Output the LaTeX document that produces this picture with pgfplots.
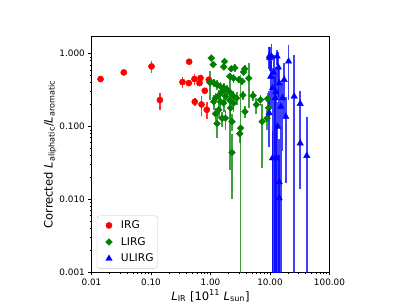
\documentclass[border=0pt]{standalone}
\usepackage{pgfplots}
\pgfplotsset{compat=1.18}
\usepackage{pgfplotstable}
\usepackage{fontspec}
\setmainfont{DejaVu Sans}
\definecolor{mplgreen}{HTML}{008000}
\definecolor{mplred}{HTML}{FF0000}
\definecolor{mplblue}{HTML}{0000FF}

\pgfplotstableread{
x y ep em
0.0142 0.449 0.04 0.04
0.0349 0.553 0.03 0.03
0.102 0.669 0.13 0.13
0.141 0.231 0.06 0.06
0.338 0.408 0.07 0.07
0.438 0.776 0.06 0.06
0.432 0.395 0.03 0.03
0.538 0.449 0.08 0.08
0.679 0.463 0.04 0.04
0.653 0.395 0.04 0.04
0.545 0.219 0.03 0.03
0.706 0.201 0.06 0.06
0.802 0.310 0.02 0.02
0.866 0.170 0.045 0.045
0.936 0.439 0.04 0.04
}\irg

\pgfplotstableread{
x y ep em
1.03 0.87 0.06 0.06
1.11 0.71 0.05 0.05
1.72 0.78 0.08 0.08
1.67 0.66 0.06 0.06
2.23 0.62 0.05 0.05
2.56 0.64 0.08 0.08
3.60 0.56 0.06 0.06
3.75 0.62 0.07 0.07
2.10 0.23 0.205 0.205
2.10 0.49 0.05 0.05
2.44 0.46 0.06 0.06
3.00 0.44 0.05 0.05
3.40 0.42 0.05 0.05
4.40 0.46 0.28 0.28
1.13 0.40 0.05 0.05
1.29 0.375 0.06 0.06
1.47 0.355 0.05 0.05
1.67 0.34 0.06 0.06
1.90 0.32 0.05 0.05
2.17 0.29 0.05 0.05
1.57 0.30 0.04 0.04
1.38 0.27 0.05 0.05
1.21 0.246 0.04 0.04
1.79 0.26 0.05 0.05
2.44 0.26 0.05 0.05
2.75 0.246 0.05 0.05
3.50 0.27 0.04 0.04
5.20 0.265 0.04 0.04
5.90 0.20 0.05 0.05
6.90 0.233 0.04 0.04
9.10 0.24 0.05 0.05
1.13 0.22 0.05 0.05
1.47 0.22 0.04 0.04
1.67 0.21 0.05 0.05
2.17 0.18 0.06 0.06
1.38 0.17 0.04 0.04
1.21 0.15 0.03 0.03
2.44 0.21 0.05 0.05
1.57 0.13 0.03 0.03
1.79 0.13 0.04 0.04
2.30 0.117 0.03 0.03
1.29 0.11 0.04 0.04
3.80 0.16 0.03 0.03
3.20 0.095 0.42 0.0945
3.10 0.08 0.02 0.02
7.40 0.117 0.09 0.09
8.90 0.13 0.04 0.04
9.50 0.18 0.05 0.05
2.30 0.044 0.034 0.034
0.98 0.40 0.17 0.17
}\lirg

\pgfplotstableread{
x y ep em
9.93 0.873 0.35 0.30
9.70 0.918 0.30 0.30
10.6 0.918 0.45 0.45
13.2 0.918 0.22 0.22
20.5 0.784 0.55 0.55
25.5 0.259 0.70 0.2585
32.2 0.205 0.10 0.10
32.2 0.059 0.045 0.045
41.5 0.0397 0.095 0.0392
11.0 0.337 0.30 0.3365
12.2 0.246 0.25 0.2455
14.3 0.395 0.30 0.30
17.3 0.439 0.30 0.30
15.2 0.188 0.20 0.1875
18.4 0.137 0.12 0.12
13.4 0.100 0.12 0.0995
11.0 0.0368 0.05 0.0363
12.9 0.0368 0.06 0.0363
9.70 0.153 0.15 0.10
10.3 0.487 0.30 0.30
16.2 0.246 0.20 0.20
14.3 0.0173 0.05 0.0168
14.3 0.0104 0.03 0.0099
11.5 0.55 0.40 0.5495
12.5 0.30 0.35 0.2995
13.8 0.65 0.40 0.40
}\ulirg

\begin{document}
\begin{tikzpicture}
\useasboundingbox (0bp,0bp) rectangle (409bp,307bp);
\begin{axis}[
  at={(91.5bp,34.7bp)}, anchor=south west,
  scale only axis, width=238bp, height=235.6bp,
  xmode=log, ymode=log,
  xmin=0.01, xmax=100, ymin=0.001, ymax=1.71,
  xtick={0.01,0.1,1,10,100},
  xticklabels={0.01,0.10,1.00,10.00,100.00},
  ytick={0.001,0.01,0.1,1},
  yticklabels={0.001,0.010,0.100,1.000},
  minor xtick={0.02,0.03,0.04,0.05,0.06,0.07,0.08,0.09,0.2,0.3,0.4,0.5,0.6,0.7,0.8,0.9,2,3,4,5,6,7,8,9,20,30,40,50,60,70,80,90},
  minor ytick={0.002,0.003,0.004,0.005,0.006,0.007,0.008,0.009,0.02,0.03,0.04,0.05,0.06,0.07,0.08,0.09,0.2,0.3,0.4,0.5,0.6,0.7,0.8,0.9},
  tick align=outside, tick pos=left,
  major tick length=3.1bp, minor tick length=1.8bp,
  tick style={black, line width=0.7pt},
  axis line style={line width=0.7pt},
  ticklabel style={font=\fontsize{8.9}{10}\selectfont},
  xlabel={\textit{L}\textsubscript{IR} [10\textsuperscript{11} \textit{L}\textsubscript{sun}]},
  ylabel={Corrected \textit{L}\textsubscript{aliphatic}/\textit{L}\textsubscript{aromatic}},
  label style={font=\fontsize{11.6}{13}\selectfont},
  xlabel style={at={(axis description cs:0.5,-0.1)}, anchor=center},
  ylabel style={at={(axis description cs:-0.174,0.5)}, anchor=center},
  legend style={at={(0,0)}, anchor=south west, xshift=5.3bp, yshift=3.8bp,
    draw=black!22, rounded corners=2.5pt, font=\fontsize{10.7}{12}\selectfont,
    inner xsep=2bp, inner ysep=3bp, row sep=3.2bp,
    /tikz/every even column/.append style={column sep=2bp}},
  legend image code/.code={\path[draw=none, fill=none] (0bp,0bp) -- (20bp,0bp); \draw[#1] plot coordinates {(10bp,0bp)};},
  legend cell align=left,
]
\addplot+[only marks, mark=*, mark size=3.1bp, color=mplred, mark options={fill=mplred, draw=mplred},
  error bars/.cd, y dir=both, y explicit, error mark=none,
  error bar style={line width=1.8pt, mplred, opacity=0.8}]
  table[x=x, y=y, y error plus=ep, y error minus=em] {\irg};
\addlegendentry{IRG}
\addplot+[only marks, mark=square*, mark size=2.4bp, color=mplgreen, mark options={fill=mplgreen, draw=mplgreen, rotate=45},
  error bars/.cd, y dir=both, y explicit, error mark=none,
  error bar style={line width=1.8pt, mplgreen, opacity=0.75}]
  table[x=x, y=y, y error plus=ep, y error minus=em] {\lirg};
\addlegendentry{LIRG}
\addplot+[only marks, mark=triangle*, mark size=3.7bp, color=mplblue, mark options={fill=mplblue, draw=mplblue},
  error bars/.cd, y dir=both, y explicit, error mark=none,
  error bar style={line width=1.8pt, mplblue, opacity=0.75}]
  table[x=x, y=y, y error plus=ep, y error minus=em] {\ulirg};
\addlegendentry{ULIRG}
\end{axis}
\end{tikzpicture}
\end{document}
